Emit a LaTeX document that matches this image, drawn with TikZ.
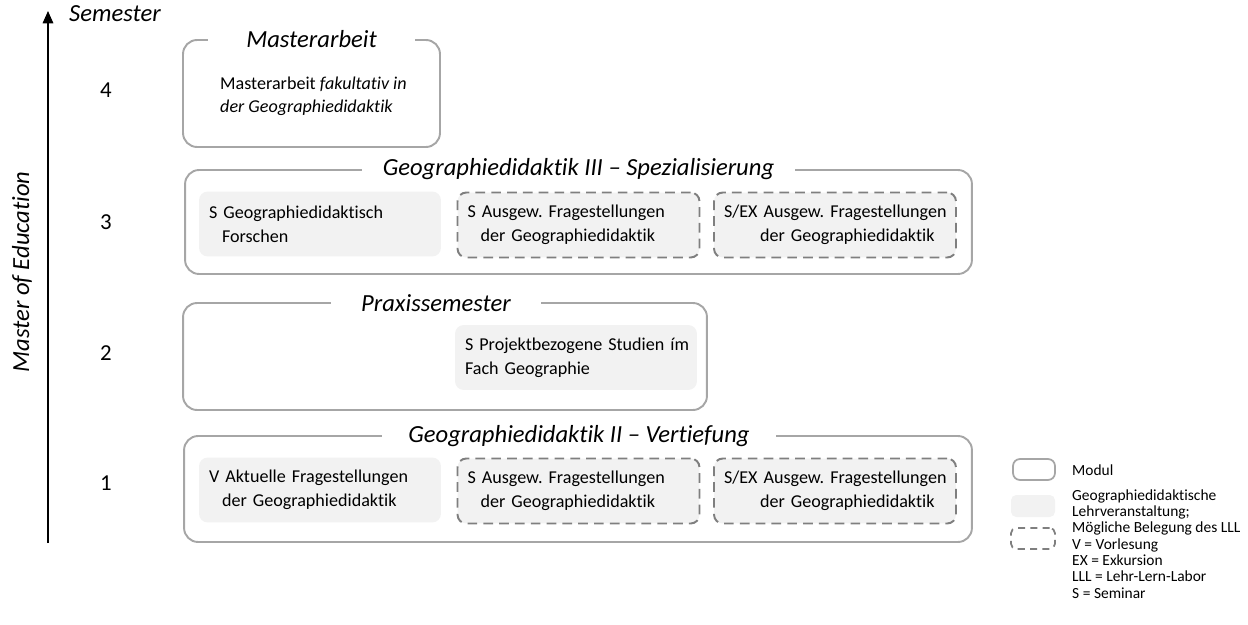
\documentclass[tikz,border=0pt]{standalone}
\usepackage{fontspec}
\setmainfont{Carlito}[Ligatures=NoCommon]
\usetikzlibrary{arrows.meta,positioning}
\definecolor{modgray}{RGB}{166,166,166}
\definecolor{dashgray}{RGB}{127,127,127}
\definecolor{lvfill}{RGB}{242,242,242}
\frenchspacing
\tikzset{
  modul/.style={draw=modgray, line width=1.1pt, rounded corners=8pt},
  lv/.style={fill=lvfill, rounded corners=5pt, minimum height=1.3cm, text width=4.44cm, inner xsep=0.2cm, align=left, font=\fontsize{10.3}{13.6}\selectfont},
  lll/.style={lv, draw=dashgray, line width=1.1pt, dash pattern=on 5.5pt off 3.5pt},
  modtitle/.style={fill=white, inner xsep=12pt, inner ysep=1pt, font=\fontsize{14}{16}\selectfont\itshape},
  sem/.style={font=\fontsize{13}{15}\selectfont},
}

\begin{document}
\begin{tikzpicture}[x=0.02cm, y=-0.02cm]
\useasboundingbox (0,0) rectangle (1248,625);
% axis
\coordinate (axbot) at (48,543);
\coordinate (axtop) at (48,11);
\draw[line width=0.9pt, -{Triangle[width=6pt,length=7pt]}] (axbot) -- (axtop);
\node[anchor=west, font=\fontsize{14}{16}\selectfont\itshape] (semlabel) at (63,14) {Semester};
\node[rotate=90, font=\fontsize{14}{16}\selectfont\itshape] (mlabel) at (22,272) {Master of Education};
\node[sem] (s4) at (106,90) {4};
\node[sem] (s3) at (106,222) {3};
\node[sem] (s2) at (106,353) {2};
\node[sem] (s1) at (106,483) {1};

% semester 4
\node[modul, minimum width=5.14cm, minimum height=2.14cm] (ma) at (311.5,93.5) {};
\node[modtitle, inner xsep=22pt] (matitle) at (ma.north) {Masterarbeit};
\node[anchor=west, align=left, font=\fontsize{10.3}{13}\selectfont] (matext) at (214,96) {Masterarbeit \textit{fakultativ in}\\\textit{der Geographiedidaktik}};

% semester 3
\node[modul, minimum width=15.74cm, minimum height=2.08cm] (gd3) at (578.5,222) {};
\node[modtitle] (gd3title) at (gd3.north) {Geographiedidaktik III -- Spezialisierung};
\node[lv] (gd3a) at (320,224) {S Geographiedidaktisch\\\hspace*{0.26cm}Forschen};
\node[lll] (gd3b) at (578.5,225) {S Ausgew. Fragestellungen\\\hspace*{0.26cm}der Geographiedidaktik};
\node[lll] (gd3c) at (835,225) {\mbox{S/EX Ausgew. Fragestellungen}\\\hspace*{0.72cm}der Geographiedidaktik};

% semester 2
\node[modul, minimum width=10.48cm, minimum height=2.14cm] (prax) at (445,356.5) {};
\node[modtitle, inner xsep=17pt] (praxtitle) at (436,303) {Praxissemester};
\node[lv] (praxa) at (576,357.5) {\mbox{S Projektbezogene Studien ím}\\Fach Geographie};

% semester 1
\node[modul, minimum width=15.76cm, minimum height=2.12cm] (gd2) at (578,489) {};
\node[modtitle, inner xsep=15pt] (gd2title) at (579,436) {Geographiedidaktik II -- Vertiefung};
\node[lv] (gd2a) at (320,490) {V Aktuelle Fragestellungen\\\hspace*{0.26cm}der Geographiedidaktik};
\node[lll] (gd2b) at (578.5,491) {S Ausgew. Fragestellungen\\\hspace*{0.26cm}der Geographiedidaktik};
\node[lll] (gd2c) at (835,491) {\mbox{S/EX Ausgew. Fragestellungen}\\\hspace*{0.72cm}der Geographiedidaktik};

% legend
\node[modul, rounded corners=4pt, line width=1pt, minimum width=0.84cm, minimum height=0.42cm] (legmod) at (1034,469.5) {};
\node[fill=lvfill, rounded corners=3pt, minimum width=0.88cm, minimum height=0.44cm] (leglv) at (1033,506) {};
\node[draw=dashgray, line width=1pt, dash pattern=on 4pt off 3pt, rounded corners=3pt, minimum width=0.88cm, minimum height=0.42cm] (leglll) at (1033,538.5) {};
\node[anchor=west, font=\fontsize{8.8}{9.3}\selectfont] (legmodtext) at (1066,470) {Modul};
\node[anchor=west, align=left, font=\fontsize{8.8}{9.3}\selectfont] (legtext) at (1066,544) {Geographiedidaktische\\Lehrveranstaltung;\\Mögliche Belegung des LLL\\V = Vorlesung\\EX = Exkursion\\LLL = Lehr-Lern-Labor\\S = Seminar};
\end{tikzpicture}
\end{document}
